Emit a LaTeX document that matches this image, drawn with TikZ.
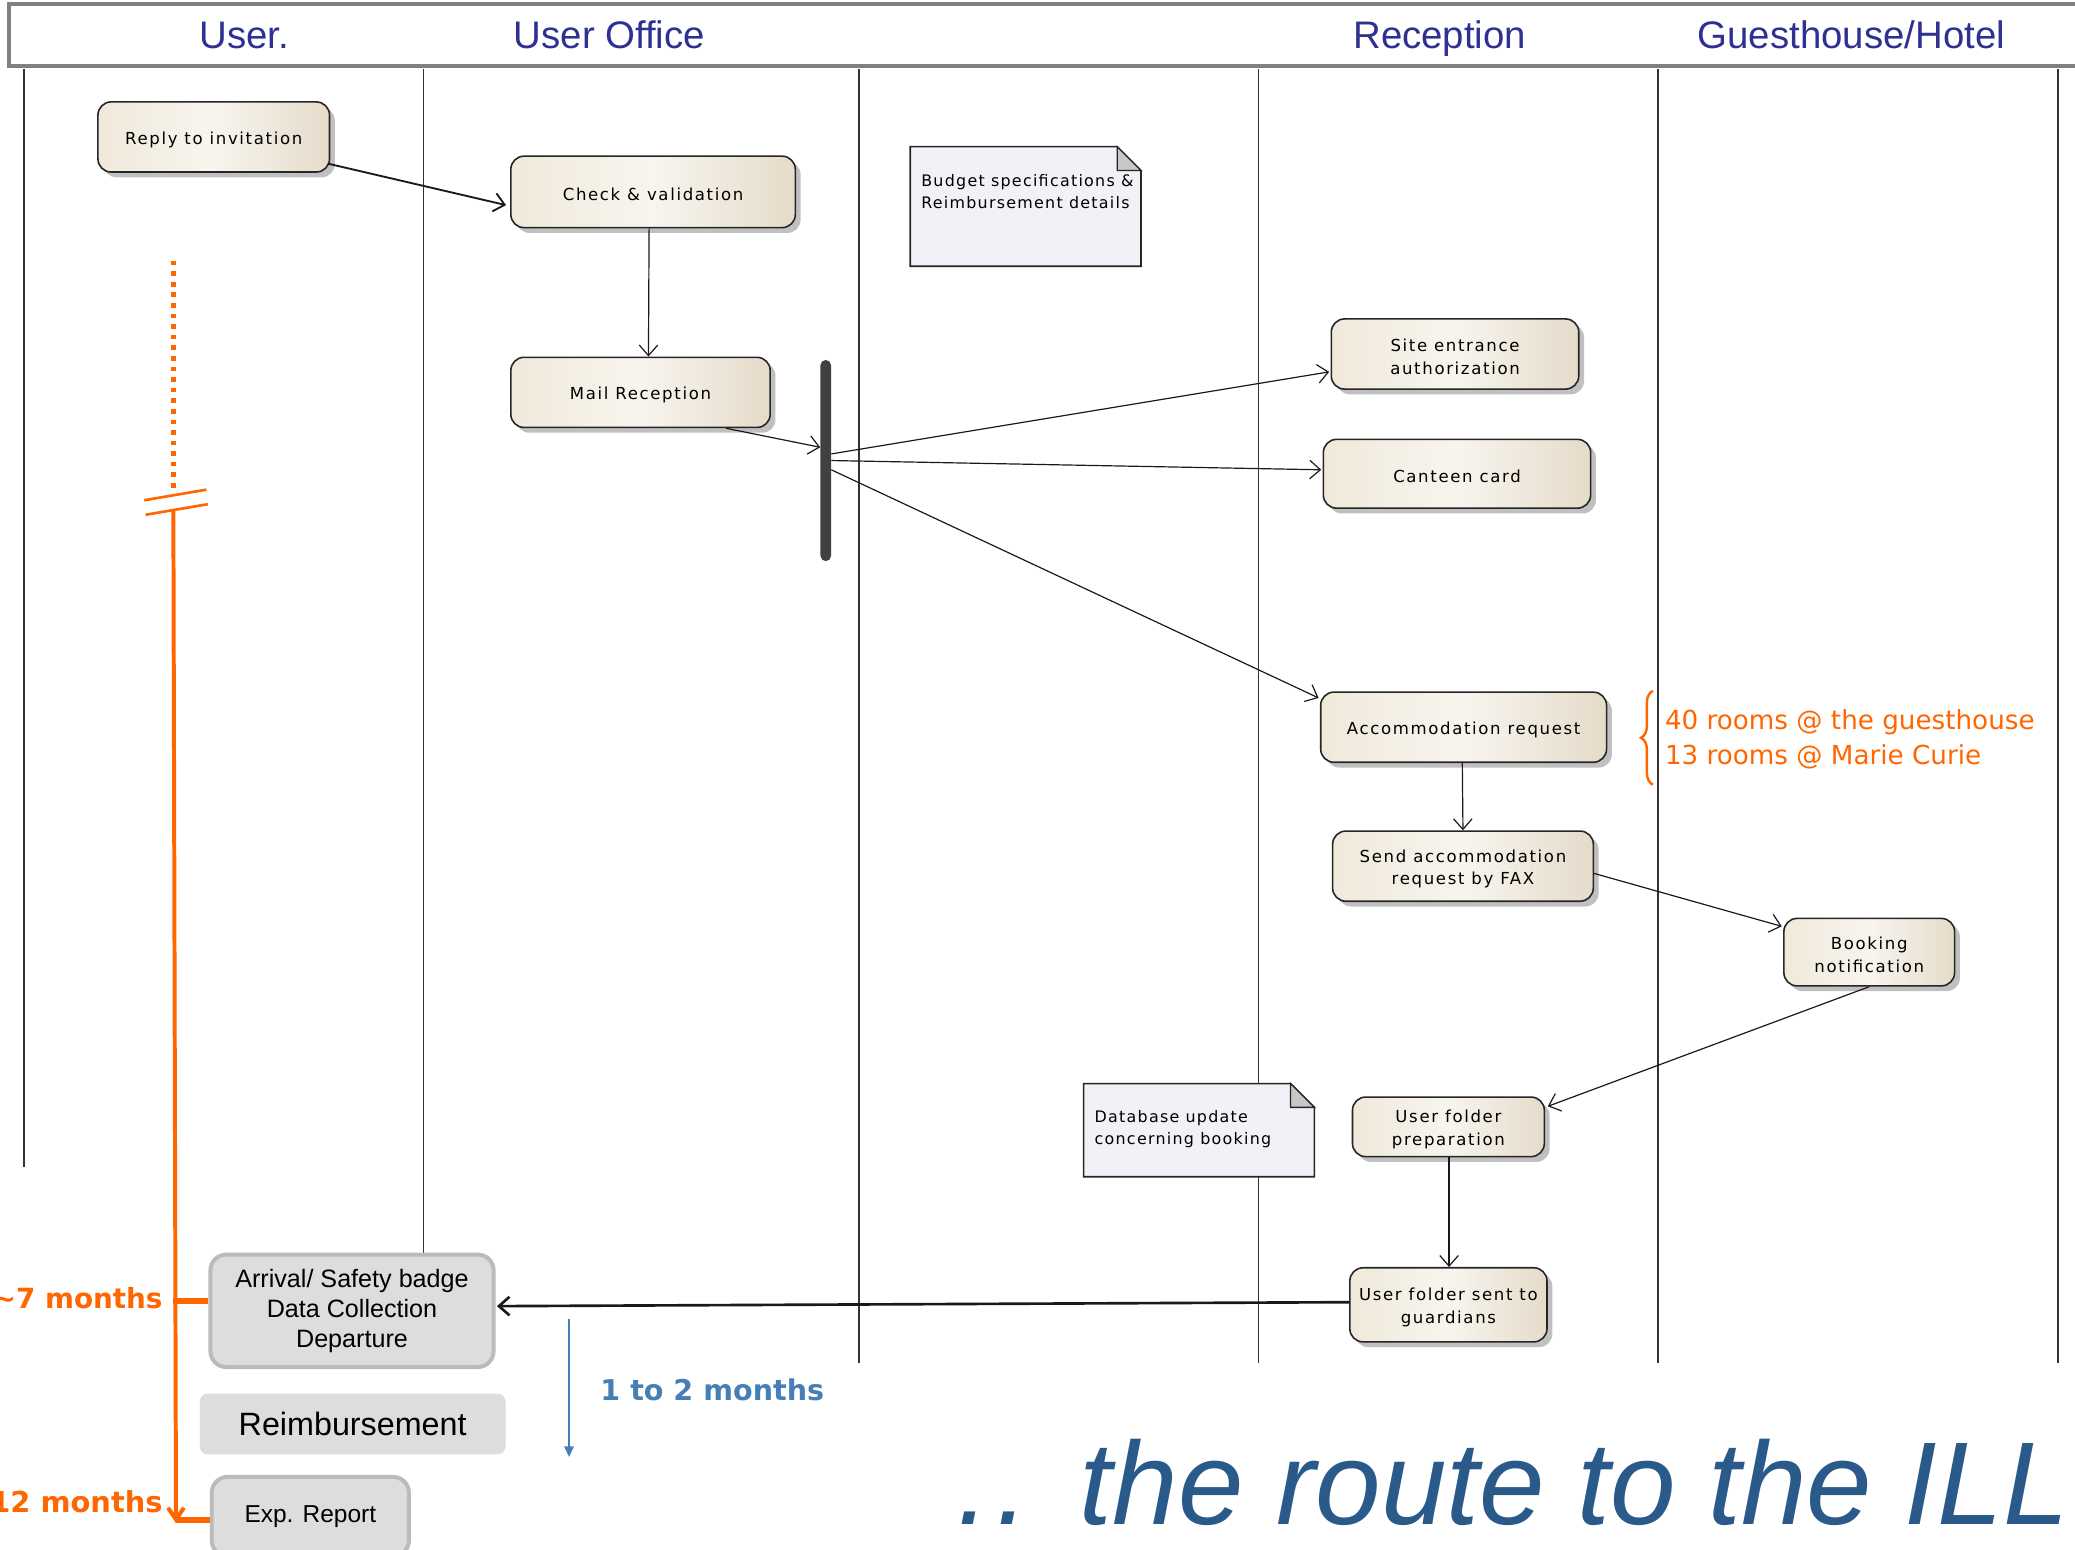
\documentclass[tikz,border=0pt]{standalone}
\usepackage{fontspec}
\setmainfont{Liberation Sans}
\newfontfamily\dejavu{DejaVu Sans}
\newfontfamily\umlfont[LetterSpace=10]{DejaVu Sans}
\newfontfamily\notefont[LetterSpace=8]{DejaVu Sans}
\usetikzlibrary{arrows.meta,shadows,calc,decorations.pathreplacing}
\newcommand{\myfs}[2]{\fontsize{#1}{#2}\selectfont}
\newcommand{\umlstrut}{\rule{0pt}{13.5pt}}
\definecolor{hdrblue}{RGB}{46,49,146}
\definecolor{orng}{RGB}{255,102,0}
\definecolor{steel}{RGB}{70,127,182}
\definecolor{ttlblue}{RGB}{42,90,138}
\definecolor{creamL}{RGB}{240,233,219}
\definecolor{creamM}{RGB}{248,245,238}
\definecolor{creamR}{RGB}{229,219,202}
\definecolor{notefill}{RGB}{243,241,247}
\definecolor{boxgray}{RGB}{221,221,221}
\definecolor{boxedge}{RGB}{187,187,187}
\begin{document}
\begin{tikzpicture}[x=1pt,y=-1pt,
  lane/.style={draw=black!80, line width=1.2pt},
  hdr/.style={font=\myfs{29}{33}, text=hdrblue, anchor=base, inner sep=0pt},
  uml/.style={draw=black!85, line width=1.2pt, rounded corners=10pt,
    left color=creamL, right color=creamR, middle color=creamM,
    drop shadow={shadow xshift=4pt, shadow yshift=-4pt, opacity=0.35, fill=black!70},
    font=\umlfont\myfs{12.5}{17}, align=center, inner sep=0pt, text=black},
  umlarrow/.style={draw=black!90, line width=0.9pt, -{Straight Barb[length=8pt,width=14pt]}},
  gbox/.style={fill=boxgray, draw=boxedge, line width=3pt, rounded corners=12pt,
    align=center, inner sep=0pt, font=\myfs{19}{22.5}},
  notebox/.style={draw=none, inner sep=0pt},
  noteline/.style={draw=black!85, line width=1.2pt, fill=notefill},
  notetxt/.style={font=\notefont\myfs{12}{16.5}, align=left, anchor=west, inner sep=0pt},
  orline/.style={draw=orng, line width=3pt},
  orlabel/.style={font=\dejavu\bfseries\myfs{21}{25}, text=orng, anchor=base east, inner sep=0pt},
  roomtxt/.style={font=\dejavu\myfs{19.8}{24}, text=orng, anchor=base west, inner sep=0pt}
]
\useasboundingbox (0,0) rectangle (1568,1171);
\fill[white] (0,0) rectangle (1568,1171);

% swimlane separators
\foreach \x/\yb in {18/882, 320/948, 649/1030, 951/1030, 1253/1030, 1555/1030}
  \draw[lane] (\x,52) -- (\x,\yb);

% header
\draw[draw=black!50, line width=3pt, fill=white] (7,3) rectangle (1585,50);
\node[hdr] (hUser) at (184.5,36.5) {User.};
\node[hdr] (hOffice) at (460.5,36.5) {User Office};
\node[hdr] (hRecep) at (1088,36.5) {Reception};
\node[hdr] (hHotel) at (1399,36.5) {Guesthouse/Hotel};

% notes
\node[notebox, minimum width=174pt, minimum height=90pt] (budget) at (775,156) {};
\path[noteline] (budget.north west) -- ($(budget.north east)+(-18,0)$) -- ($(budget.north east)+(0,18)$) -- (budget.south east) -- (budget.south west) -- cycle;
\path[draw=black!85, line width=1pt, fill=black!22] ($(budget.north east)+(-18,0)$) -- ($(budget.north east)+(-18,18)$) -- ($(budget.north east)+(0,18)$) -- cycle;
\node[notetxt] (budgetT) at (696,145) {Budget specifications \&\\Reimbursement details};

\node[notebox, minimum width=174pt, minimum height=70pt] (dbnote) at (906,854) {};
\path[noteline] (dbnote.north west) -- ($(dbnote.north east)+(-18,0)$) -- ($(dbnote.north east)+(0,18)$) -- (dbnote.south east) -- (dbnote.south west) -- cycle;
\path[draw=black!85, line width=1pt, fill=black!22] ($(dbnote.north east)+(-18,0)$) -- ($(dbnote.north east)+(-18,18)$) -- ($(dbnote.north east)+(0,18)$) -- cycle;
\node[notetxt] (dbnoteT) at (827,853.5) {Database update\\concerning booking};

% activity nodes
\node[uml, minimum width=175pt, minimum height=53pt] (reply) at (161.5,103.5) {\umlstrut Reply to invitation};
\node[uml, minimum width=215pt, minimum height=54pt] (check) at (493.5,145) {\umlstrut Check \& validation};
\node[uml, minimum width=196pt, minimum height=53pt] (mail) at (484,296.5) {\umlstrut Mail Reception};
\node[uml, minimum width=187pt, minimum height=53pt] (site) at (1099.5,267.5) {\umlstrut Site entrance\\authorization};
\node[uml, minimum width=202pt, minimum height=52pt] (canteen) at (1101,358) {\umlstrut Canteen card};
\node[uml, minimum width=216pt, minimum height=53pt] (accom) at (1106,549.5) {\umlstrut Accommodation request};
\node[uml, minimum width=197pt, minimum height=53pt] (fax) at (1105.5,654.5) {\umlstrut Send accommodation\\request by FAX};
\node[uml, minimum width=129pt, minimum height=51pt] (booking) at (1412.5,719.5) {\umlstrut Booking\\notification};
\node[uml, minimum width=145pt, minimum height=45pt] (prep) at (1094.5,851.5) {\umlstrut User folder\\preparation};
\node[uml, minimum width=149pt, minimum height=56pt] (sent) at (1094.5,986) {\umlstrut User folder sent to\\guardians};

% fork bar
\node[fill=black!75, minimum width=8pt, minimum height=152pt, inner sep=0pt, rounded corners=4pt] (bar) at (624,348) {};

% grey boxes
\node[gbox, minimum width=214pt, minimum height=85pt] (arrival) at (266,990.5) {Arrival/ Safety badge\\Data Collection\\Departure};
\node[fill=boxgray, rounded corners=6pt, minimum width=231pt, minimum height=46pt, inner sep=0pt, font=\myfs{24.4}{28}] (reimb) at (266.5,1076) {Reimbursement};
\node[gbox, minimum width=149pt, minimum height=60pt, font=\myfs{18.5}{22}] (exp) at (234.5,1146) {\raisebox{1.5pt}{Exp. Report}};

% connectors
\draw[umlarrow, line width=1.4pt] ($(reply.south east)+(-2,-7)$) -- ($(check.west)+(-3,10)$);
\draw[umlarrow] ($(check.south)+(-3,0)$) -- ($(mail.north)+(6,0)$);
\draw[umlarrow] ($(mail.south east)+(-34,0)$) -- ($(bar.west)+(0,-10)$);
\draw[umlarrow] ($(bar.east)+(0,-5)$) -- ($(site.west)+(-1,13.5)$);
\draw[umlarrow] (bar.east) -- ($(canteen.west)+(-1,-3)$);
\draw[umlarrow] ($(bar.east)+(0,7)$) -- ($(accom.north west)+(-1,5)$);
\draw[umlarrow] ($(accom.south)+(-1,0)$) -- ($(fax.north)+(0,0)$);
\draw[umlarrow] ($(fax.east)+(0,5.5)$) -- ($(booking.west)+(-1,-19.5)$);
\draw[umlarrow] (booking.south) -- ($(prep.east)+(2,-15.5)$);
\draw[umlarrow] ($(prep.south)+(0.5,0)$) -- ($(sent.north)+(0.5,0)$);
\draw[umlarrow, line width=2pt] ($(sent.west)+(0,-2)$) -- ($(arrival.east)+(1,-3.5)$);

% orange timeline
\coordinate (dotTop) at (131,197);
\coordinate (dotBot) at (131,373);
\draw[orng, line width=3.5pt, dash pattern=on 3.5pt off 4.5pt] (dotTop) -- (dotBot);
\coordinate (s1a) at (109,378); \coordinate (s1b) at (156,370);
\coordinate (s2a) at (110,389); \coordinate (s2b) at (157,381);
\draw[orng, line width=2pt] (s1a) -- (s1b);
\draw[orng, line width=2pt] (s2a) -- (s2b);
\coordinate (tlTop) at (131,385);
\coordinate (tlEnd) at (133,1151);
\draw[orline, -{Straight Barb[length=9pt,width=12pt]}] (tlTop) -- (tlEnd);
\coordinate (t7) at (131,983);
\coordinate (t12) at (133,1148.5);
\draw[orng, line width=4pt] (t7) -- ($(arrival.west)+(0,-7.5)$);
\draw[orng, line width=4pt] (t12) -- ($(exp.west)+(0,2.5)$);
\node[orlabel] (m7) at (123,989) {\textasciitilde 7 months};
\node[orlabel, font=\dejavu\bfseries\myfs{21.8}{25}] (m12) at (123,1143) {12 months};

% blue duration arrow
\coordinate (bA) at (430,997);
\coordinate (bB) at (430,1101);
\draw[steel, line width=1.5pt, -{Triangle[length=8pt,width=7pt]}] (bA) -- (bB);
\node[font=\dejavu\bfseries\myfs{21.6}{25}, text=steel, anchor=base west, inner sep=0pt] (m12b) at (453.5,1058) {1 to 2 months};

% rooms brace
\coordinate (brB) at (1249,593);
\coordinate (brT) at (1249,522);
\draw[orng, line width=1.8pt, decorate, decoration={brace, amplitude=9pt}] (brB) -- (brT);
\node[roomtxt] (rooms1) at (1258,551.5) {40 rooms @ the guesthouse};
\node[roomtxt] (rooms2) at (1258,577.5) {13 rooms @ Marie Curie};

% title
\node[font=\itshape\myfs{89}{100}, text=ttlblue, anchor=base west, inner sep=0pt] (title) at (723,1152) {.\kern0.06em.\kern0.15em\ the route to the ILL};
\end{tikzpicture}
\end{document}
